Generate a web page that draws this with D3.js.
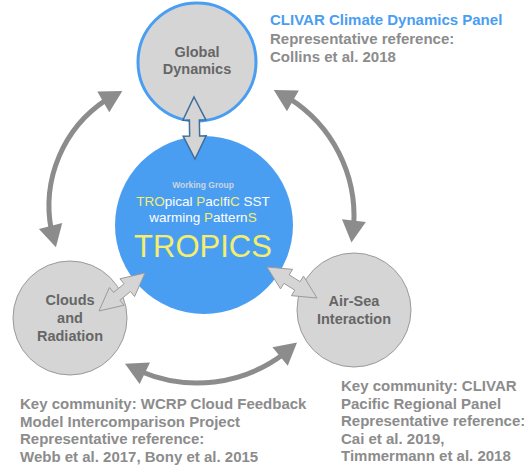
<!DOCTYPE html>
<html>
<head>
<meta charset="utf-8">
<script src="https://cdn.jsdelivr.net/npm/d3@7"></script>
<style>
  body { margin: 0; background: #fff; }
  svg { display: block; font-family: "Liberation Sans", Arial, Helvetica, sans-serif; }
</style>
</head>
<body>
<div id="chart"></div>
<script>
// content
const nodeLines = [
  ['Global', 'Dynamics'],
  ['Clouds', 'and', 'Radiation'],
  ['Air-Sea', 'Interaction']
]
const groupTitle = 'Working Group'
// [text, highlighted]
const acronymLines = [
  [['TRO', true], ['pical ', false], ['P', true], ['ac', false], ['I', true], ['fi', false], ['C', true], [' SST', false]],
  [['warming ', false], ['P', true], ['attern', false], ['S', true]]
]
const acronym = 'TROPICS'
const panelNotes = [
  ['CLIVAR Climate Dynamics Panel', 'Representative reference:', 'Collins et al. 2018'],
  ['Key community: WCRP Cloud Feedback', 'Model Intercomparison Project', 'Representative reference:', 'Webb et al. 2017, Bony et al. 2015'],
  ['Key community: CLIVAR', 'Pacific Regional Panel', 'Representative reference:', 'Cai et al. 2019,', 'Timmermann et al. 2018']
]

// layout
const width = 524
const height = 468
const nodePos = [
  { cx: 197, cy: 62, r: 59 },
  { cx: 70, cy: 318, r: 57 },
  { cx: 354, cy: 310, r: 57 }
]
const hub = { cx: 204, cy: 225, r: 89 }
const lineGap = [17, 18, 18]
const labelTop = [57, 305, 306]
const notePos = [
  { x: 270, y: 25, gap: 18.5 },
  { x: 20, y: 409, gap: 17.7 },
  { x: 341, y: 391, gap: 17.5 }
]
// cycle arcs: centre, radius, start / end angle in degrees (svg orientation)
const cycleArcs = [
  { cx: 176, cy: 206, r: 127, a0: 161, a1: 245 },
  { cx: 215, cy: 216, r: 139, a0: -65, a1: 11 },
  { cx: 197, cy: 239, r: 144, a0: 46, a1: 120 }
]
// links between hub and nodes: tip to tip
const links = [
  { p1: [194, 97], p2: [195, 159], stroke: '#3e6e9c', sw: 1.5 },
  { p1: [145, 273], p2: [99, 311], stroke: '#9a9a9a', sw: 1 },
  { p1: [267, 267], p2: [317, 298], stroke: '#9a9a9a', sw: 1 }
]

const blue = '#4a9ef2'
const yellow = '#f4ee6c'
const grey = '#8c8c8c'

const svg = d3.select('#chart').append('svg')
  .attr('width', width)
  .attr('height', height)
  .attr('viewBox', [0, 0, width, height])

// nodes
svg.append('g').selectAll('circle')
  .data(nodePos)
  .join('circle')
  .attr('cx', d => d.cx)
  .attr('cy', d => d.cy)
  .attr('r', d => d.r)
  .attr('fill', '#d5d5d5')
  .attr('stroke', (d, i) => i === 0 ? blue : '#9a9a9a')
  .attr('stroke-width', (d, i) => i === 0 ? 3 : 1)

svg.append('circle')
  .attr('cx', hub.cx)
  .attr('cy', hub.cy)
  .attr('r', hub.r)
  .attr('fill', blue)

// curved arrows
const rad = a => a * Math.PI / 180
const onArc = (c, a) => [c.cx + c.r * Math.cos(a), c.cy + c.r * Math.sin(a)]
const headLen = 22
const headHalf = 12

const arcG = svg.append('g')
cycleArcs.forEach(c => {
  const a0 = rad(c.a0)
  const a1 = rad(c.a1)
  const d = headLen / c.r
  const p = d3.path()
  const s = onArc(c, a0 + d * 0.8)
  p.moveTo(s[0], s[1])
  p.arc(c.cx, c.cy, c.r, a0 + d * 0.8, a1 - d * 0.8, false)
  arcG.append('path')
    .attr('d', p.toString())
    .attr('fill', 'none')
    .attr('stroke', grey)
    .attr('stroke-width', 5)

  ;[[a0, a0 + d], [a1, a1 - d]].forEach(([at, ab]) => {
    const tip = onArc(c, at)
    const base = onArc(c, ab)
    const ang = Math.atan2(tip[1] - base[1], tip[0] - base[0])
    const nx = -Math.sin(ang)
    const ny = Math.cos(ang)
    const pts = [
      tip,
      [base[0] + nx * headHalf, base[1] + ny * headHalf],
      [base[0] - nx * headHalf, base[1] - ny * headHalf]
    ]
    arcG.append('polygon')
      .attr('points', pts.map(q => q.join(',')).join(' '))
      .attr('fill', grey)
  })
})

// double arrows
const dh = 23
const hw = 11.5
const sw = 5
svg.append('g').selectAll('polygon')
  .data(links)
  .join('polygon')
  .attr('points', l => {
    const L = Math.hypot(l.p2[0] - l.p1[0], l.p2[1] - l.p1[1])
    const ang = Math.atan2(l.p2[1] - l.p1[1], l.p2[0] - l.p1[0])
    const h = Math.min(dh, L * 0.4)
    const local = [[0, 0], [h, -hw], [h, -sw], [L - h, -sw], [L - h, -hw], [L, 0],
      [L - h, hw], [L - h, sw], [h, sw], [h, hw]]
    const cos = Math.cos(ang)
    const sin = Math.sin(ang)
    return local.map(([x, y]) => [l.p1[0] + x * cos - y * sin, l.p1[1] + x * sin + y * cos].join(',')).join(' ')
  })
  .attr('fill', '#d5d5d5')
  .attr('stroke', l => l.stroke)
  .attr('stroke-width', l => l.sw)
  .attr('stroke-linejoin', 'miter')

// node labels
nodeLines.forEach((lines, i) => {
  svg.append('text')
    .attr('text-anchor', 'middle')
    .attr('font-size', 14.5)
    .attr('font-weight', 'bold')
    .attr('fill', '#666')
    .selectAll('tspan')
    .data(lines)
    .join('tspan')
    .attr('x', nodePos[i].cx)
    .attr('y', (d, j) => labelTop[i] + j * lineGap[i])
    .text(d => d)
})

// hub text
svg.append('text')
  .attr('x', 203)
  .attr('y', 188)
  .attr('text-anchor', 'middle')
  .attr('font-size', 8.5)
  .attr('font-weight', 'bold')
  .attr('fill', '#cbd5e0')
  .text(groupTitle)

acronymLines.forEach((segs, i) => {
  svg.append('text')
    .attr('x', 203)
    .attr('y', 206 + i * 16)
    .attr('text-anchor', 'middle')
    .attr('font-size', 13.5)
    .selectAll('tspan')
    .data(segs)
    .join('tspan')
    .attr('fill', d => d[1] ? yellow : '#fff')
    .style('white-space', 'pre')
    .text(d => d[0])
})

svg.append('text')
  .attr('x', 203)
  .attr('y', 257)
  .attr('text-anchor', 'middle')
  .attr('font-size', 31)
  .attr('fill', yellow)
  .text(acronym)

// panel notes
panelNotes.forEach((lines, i) => {
  svg.append('text')
    .attr('font-size', 15)
    .attr('font-weight', 'bold')
    .selectAll('tspan')
    .data(lines)
    .join('tspan')
    .attr('x', notePos[i].x)
    .attr('y', (d, j) => notePos[i].y + j * notePos[i].gap)
    .attr('fill', (d, j) => i === 0 && j === 0 ? blue : grey)
    .text(d => d)
})
</script>
</body>
</html>
